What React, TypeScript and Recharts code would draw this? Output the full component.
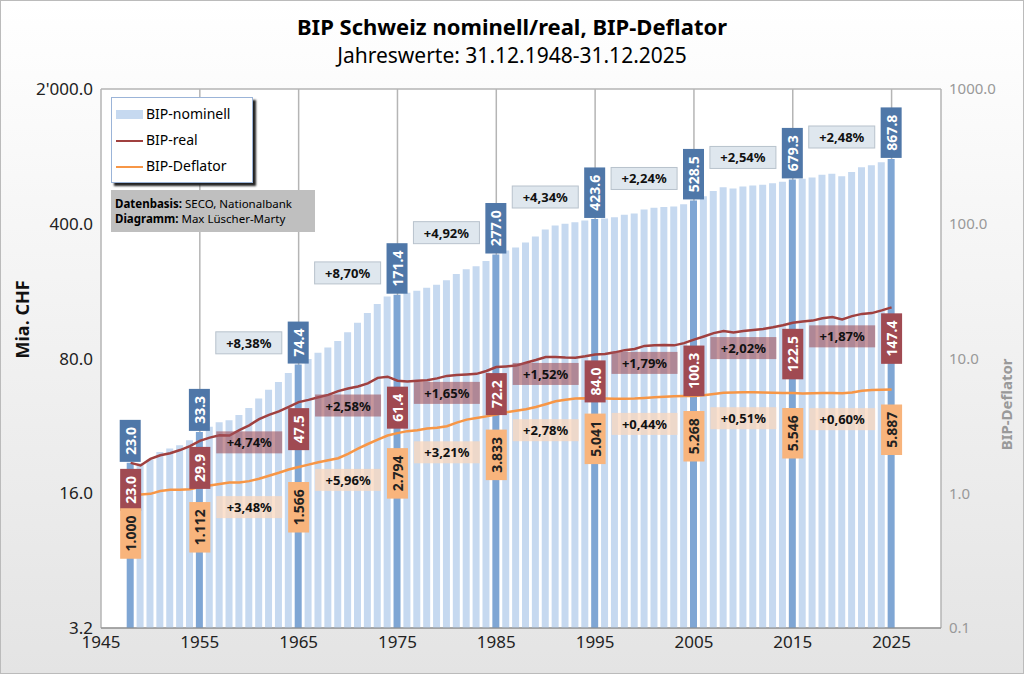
import React from 'react';
import {
  ComposedChart,
  Bar,
  Line,
  XAxis,
  YAxis,
  CartesianGrid,
  Cell,
  LabelList,
} from 'recharts';

const YEARS = [
  1948, 1949, 1950, 1951, 1952, 1953, 1954, 1955, 1956, 1957, 1958, 1959, 1960, 1961, 1962, 1963,
  1964, 1965, 1966, 1967, 1968, 1969, 1970, 1971, 1972, 1973, 1974, 1975, 1976, 1977, 1978, 1979,
  1980, 1981, 1982, 1983, 1984, 1985, 1986, 1987, 1988, 1989, 1990, 1991, 1992, 1993, 1994, 1995,
  1996, 1997, 1998, 1999, 2000, 2001, 2002, 2003, 2004, 2005, 2006, 2007, 2008, 2009, 2010, 2011,
  2012, 2013, 2014, 2015, 2016, 2017, 2018, 2019, 2020, 2021, 2022, 2023, 2024, 2025,
];

const NOMINAL = [
  23.0, 22.9, 23.9, 26.2, 27.3, 28.4, 30.1, 33.3, 35.4, 37.4, 38.3, 40.8, 44.3, 49.6, 55.1, 60.4,
  67.3, 74.4, 79.6, 85.6, 91.2, 98.6, 109.5, 122.6, 137.8, 153.5, 168.0, 171.4, 175.4, 179.9, 186.2, 193.0,
  204.0, 219.6, 232.6, 241.0, 256.2, 277.0, 290.4, 301.2, 319.6, 343.6, 373.3, 391.4, 399.8, 407.1, 415.3, 423.6,
  425.5, 432.0, 444.8, 452.2, 474.4, 483.8, 488.2, 491.3, 505.3, 528.5, 556.1, 591.2, 619.2, 610.3, 624.1, 632.0,
  637.4, 648.0, 660.3, 679.3, 683.9, 694.6, 718.0, 726.9, 706.2, 743.1, 785.3, 803.6, 833.0, 867.8,
];

const REAL = [
  23.0, 22.3, 24.1, 25.2, 25.8, 26.8, 28.1, 29.9, 31.1, 32.0, 31.9, 34.0, 36.0, 38.8, 40.8, 42.5,
  44.9, 47.5, 48.8, 50.4, 51.8, 54.2, 55.9, 57.3, 59.4, 63.5, 64.4, 61.4, 60.7, 61.4, 61.7, 63.1,
  65.0, 65.7, 66.1, 66.6, 68.9, 72.2, 72.8, 73.5, 76.1, 78.6, 81.5, 81.4, 80.9, 80.8, 82.1, 84.0,
  84.4, 86.1, 88.4, 89.7, 93.0, 93.8, 93.9, 93.6, 96.1, 100.3, 104.1, 108.3, 111.0, 109.0, 111.0, 112.5,
  113.8, 116.1, 119.0, 122.5, 124.3, 125.8, 129.4, 131.2, 127.7, 132.7, 136.3, 137.6, 142.2, 147.4,
];

const DEFLATOR = [
  1.0, 0.98, 0.99, 1.04, 1.06, 1.06, 1.07, 1.112, 1.14, 1.17, 1.2, 1.2, 1.23, 1.28, 1.35, 1.42,
  1.5, 1.566, 1.63, 1.7, 1.76, 1.82, 1.96, 2.14, 2.32, 2.5, 2.68, 2.794, 2.89, 2.93, 3.02, 3.06,
  3.14, 3.34, 3.52, 3.62, 3.72, 3.833, 3.99, 4.1, 4.2, 4.37, 4.58, 4.81, 4.94, 5.04, 5.06, 5.041,
  5.04, 5.02, 5.03, 5.04, 5.1, 5.16, 5.2, 5.25, 5.26, 5.268, 5.34, 5.46, 5.58, 5.6, 5.62, 5.62,
  5.6, 5.58, 5.55, 5.546, 5.5, 5.52, 5.55, 5.54, 5.53, 5.6, 5.76, 5.84, 5.86, 5.887,
];

const MARKED_YEARS = [1948, 1955, 1965, 1975, 1985, 1995, 2005, 2015, 2025];
const GROWTH_YEARS = [1960, 1970, 1980, 1990, 2000, 2010, 2020];
const GROWTH_NOMINAL = ['+8,38%', '+8,70%', '+4,92%', '+4,34%', '+2,24%', '+2,54%', '+2,48%'];
const GROWTH_REAL = ['+4,74%', '+2,58%', '+1,65%', '+1,52%', '+1,79%', '+2,02%', '+1,87%'];
const GROWTH_DEFLATOR = ['+3,48%', '+5,96%', '+3,21%', '+2,78%', '+0,44%', '+0,51%', '+0,60%'];

const X_TICKS = [1945, 1955, 1965, 1975, 1985, 1995, 2005, 2015, 2025];
const LEFT_TICKS = [3.2, 16, 80, 400, 2000];
const RIGHT_TICKS = [0.1, 1, 10, 100, 1000];

const data = YEARS.map((year, i) => ({
  year,
  nominal: NOMINAL[i],
  real: REAL[i],
  deflator: DEFLATOR[i],
}));

const FONT = '"Noto Sans", "Open Sans", sans-serif';

const fmtLeft = (v: number) => (v >= 1000 ? "2'000.0" : v.toFixed(1));

function VBox({ cx, top, text, fill, color }: any) {
  const w = 21;
  const h = text.length * 8.5 + 8;
  return (
    <g>
      <rect x={cx - w / 2} y={top} width={w} height={h} fill={fill} />
      <text
        x={cx}
        y={top + h / 2}
        transform={`rotate(-90 ${cx} ${top + h / 2})`}
        textAnchor="middle"
        dominantBaseline="central"
        fill={color}
        fontSize={14}
        fontWeight="bold"
        fontFamily={FONT}
      >
        {text}
      </text>
    </g>
  );
}

function GBox({ cx, cy, text, fill, stroke }: any) {
  return (
    <g>
      <rect x={cx - 33} y={cy - 11} width={66} height={22} fill={fill} stroke={stroke} />
      <text
        x={cx}
        y={cy}
        textAnchor="middle"
        dominantBaseline="central"
        fill="#111"
        fontSize={13}
        fontWeight="bold"
        fontFamily={FONT}
      >
        {text}
      </text>
    </g>
  );
}

const yearAt = (index: number) => YEARS[index];

function nominalLabel(props: any) {
  const { x, y, width, index } = props;
  const year = yearAt(index);
  if (!MARKED_YEARS.includes(year)) return null;
  const txt = NOMINAL[index].toFixed(1);
  const h = txt.length * 8.5 + 8;
  return <VBox cx={x + width / 2} top={y - h - 1} text={txt} fill="#4f77a8" color="#fff" />;
}

function realLabel(props: any) {
  const { x, y, index } = props;
  const year = yearAt(index);
  if (MARKED_YEARS.includes(year)) {
    return <VBox cx={x} top={y + 6} text={REAL[index].toFixed(1)} fill="#a04a52" color="#fff" />;
  }
  const g = GROWTH_YEARS.indexOf(year);
  if (g >= 0) {
    return <GBox cx={x} cy={y + 17} text={GROWTH_REAL[g]} fill="rgba(160,80,90,0.6)" stroke="none" />;
  }
  return null;
}

function deflatorLabel(props: any) {
  const { x, y, index } = props;
  const year = yearAt(index);
  if (MARKED_YEARS.includes(year)) {
    return <VBox cx={x} top={y + 15} text={DEFLATOR[index].toFixed(3)} fill="#f8b47c" color="#222" />;
  }
  const g = GROWTH_YEARS.indexOf(year);
  if (g >= 0) {
    return <GBox cx={x} cy={y + 26} text={GROWTH_DEFLATOR[g]} fill="rgba(250,215,190,0.75)" stroke="none" />;
  }
  return null;
}

function nominalGrowthLabel(props: any) {
  const { x, y, width, index } = props;
  const year = yearAt(index);
  const g = GROWTH_YEARS.indexOf(year);
  if (g < 0) return null;
  // box sits a little above the bar of the following decade year
  const endIdx = YEARS.indexOf(year + 5);
  const ratio = Math.log(NOMINAL[endIdx] / NOMINAL[index]) / Math.log(5);
  const cy = y - ratio * 134 - 22;
  return (
    <GBox
      cx={x + width / 2}
      cy={cy}
      text={GROWTH_NOMINAL[g]}
      fill="rgba(220,228,236,0.9)"
      stroke="#b8c2cc"
    />
  );
}

export default function App() {
  return (
    <div
      style={{
        position: 'absolute',
        left: 0,
        top: 0,
        width: 1024,
        height: 674,
        background: 'linear-gradient(#ffffff, #e4e4e4)',
        border: '1px solid #bbb',
        boxSizing: 'border-box',
        fontFamily: FONT,
      }}
    >
      <div style={{ position: 'absolute', top: 10, width: '100%', textAlign: 'center', fontSize: 22, fontWeight: 'bold' }}>
        BIP Schweiz nominell/real, BIP-Deflator
      </div>
      <div style={{ position: 'absolute', top: 40, width: '100%', textAlign: 'center', fontSize: 21 }}>
        Jahreswerte: 31.12.1948-31.12.2025
      </div>
      <ComposedChart
        width={1024}
        height={674}
        data={data}
        margin={{ top: 88, right: 0, bottom: 17, left: 0 }}
        style={{ position: 'absolute', left: 0, top: 0 }}
      >
        <CartesianGrid stroke="#b5b5b5" strokeWidth={1.5} fill="#ffffff" />
        <XAxis
          dataKey="year"
          type="number"
          domain={[1945, 2030]}
          ticks={X_TICKS}
          height={30}
          tick={{ fill: '#222', fontSize: 17, fontFamily: FONT }}
          tickLine={false}
          axisLine={{ stroke: '#888' }}
        />
        <YAxis
          yAxisId="left"
          scale="log"
          domain={[3.2, 2000]}
          ticks={LEFT_TICKS}
          tickFormatter={fmtLeft}
          width={100}
          allowDataOverflow
          tick={{ fill: '#222', fontSize: 17, fontFamily: FONT }}
          tickLine={false}
          axisLine={false}
          label={{ value: 'Mia. CHF', angle: -90, position: 'insideLeft', offset: 22, fill: '#111', fontSize: 18, fontWeight: 'bold' }}
        />
        <YAxis
          yAxisId="right"
          orientation="right"
          scale="log"
          domain={[0.1, 1000]}
          ticks={RIGHT_TICKS}
          tickFormatter={(v: number) => v.toFixed(1)}
          width={84}
          allowDataOverflow
          tick={{ fill: '#999', fontSize: 15, fontFamily: FONT }}
          tickLine={false}
          axisLine={false}
          label={{ value: 'BIP-Deflator', angle: -90, position: 'insideRight', offset: 18, fill: '#999', fontSize: 15, fontWeight: 'bold' }}
        />
        <Bar
          yAxisId="left"
          dataKey={(d: any) => [3.2, d.nominal]}
          barSize={7}
          isAnimationActive={false}
        >
          {data.map((d) => (
            <Cell key={d.year} fill={MARKED_YEARS.includes(d.year) ? '#7fa6d4' : '#c6d9f0'} />
          ))}
          <LabelList content={nominalLabel} />
          <LabelList content={nominalGrowthLabel} />
        </Bar>
        <Line
          yAxisId="left"
          dataKey="real"
          stroke="#a0403f"
          strokeWidth={2.5}
          dot={false}
          isAnimationActive={false}
        >
          <LabelList content={realLabel} />
        </Line>
        <Line
          yAxisId="right"
          dataKey="deflator"
          stroke="#f79646"
          strokeWidth={2.5}
          dot={false}
          isAnimationActive={false}
        >
          <LabelList content={deflatorLabel} />
        </Line>
      </ComposedChart>
      <div
        style={{
          position: 'absolute',
          left: 110,
          top: 96,
          width: 132,
          padding: '3px 4px',
          background: '#fff',
          border: '1px solid #9bb4d8',
          boxShadow: '3px 3px 2px #222',
          fontSize: 14,
          lineHeight: '26px',
        }}
      >
        <div><span style={{ display: 'inline-block', width: 27, height: 9, background: '#c6d9f0', marginRight: 3 }} />BIP-nominell</div>
        <div><span style={{ display: 'inline-block', width: 27, height: 2, background: '#a0403f', verticalAlign: 'middle', marginRight: 3 }} />BIP-real</div>
        <div><span style={{ display: 'inline-block', width: 27, height: 2, background: '#f79646', verticalAlign: 'middle', marginRight: 3 }} />BIP-Deflator</div>
      </div>
      <div
        style={{
          position: 'absolute',
          left: 110,
          top: 189,
          width: 196,
          padding: '6px 4px',
          background: '#bfbfbf',
          fontSize: 11.5,
          lineHeight: '15px',
        }}
      >
        <div><b>Datenbasis:</b> SECO, Nationalbank</div>
        <div><b>Diagramm:</b> Max Lüscher-Marty</div>
      </div>
    </div>
  );
}
